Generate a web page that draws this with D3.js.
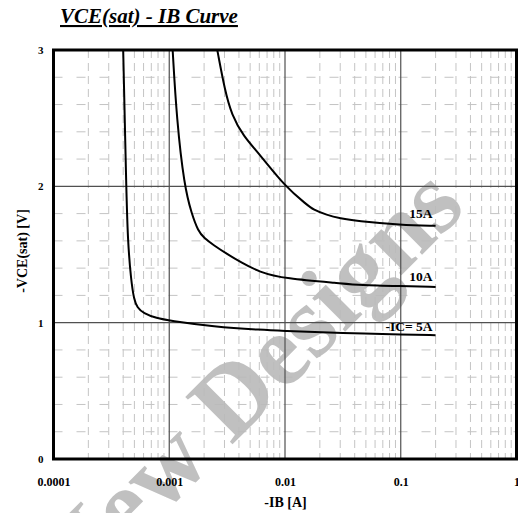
<!DOCTYPE html>
<html>
<head>
<meta charset="utf-8">
<script src="https://cdn.jsdelivr.net/npm/d3@7"></script>
<style>
  body { margin: 0; background: #fff; }
  text { font-family: "Liberation Serif", "Times New Roman", serif; font-weight: bold; }
</style>
</head>
<body>
<div id="chart"></div>
<script>
// data
var ib5  = [0.0004, 0.000425, 0.000438, 0.000468, 0.000496, 0.00053, 0.000596, 0.00078, 0.001, 0.0024, 0.0064, 0.01, 0.02, 0.05, 0.1, 0.2];
var v5   = [3.0, 2.0, 1.6, 1.31, 1.17, 1.11, 1.07, 1.032, 1.015, 0.97, 0.946, 0.94, 0.93, 0.92, 0.912, 0.908];
var ib10 = [0.00107, 0.00116, 0.00135, 0.00156, 0.00178, 0.002, 0.0024, 0.00325, 0.0041, 0.006, 0.01, 0.03, 0.044, 0.1, 0.2];
var v10  = [3.0, 2.49, 2.0, 1.80, 1.67, 1.621, 1.57, 1.497, 1.446, 1.37, 1.323, 1.289, 1.275, 1.268, 1.262];
var ib15 = [0.0026, 0.00303, 0.00346, 0.00436, 0.00607, 0.01, 0.0154, 0.0175, 0.0229, 0.03, 0.0415, 0.1, 0.2];
var v15  = [3.0, 2.70, 2.526, 2.368, 2.233, 2.0, 1.866, 1.83, 1.79, 1.765, 1.745, 1.717, 1.71];
var curveLabels = ["-IC= 5A", "10A", "15A"];

var xTicks = [0.0001, 0.001, 0.01, 0.1, 1];
var xTickLabels = ["0.0001", "0.001", "0.01", "0.1", "1"];
var yTicks = [0, 1, 2, 3];

var margin = {top: 50, right: 2, bottom: 54, left: 53.5};
var W = 518, H = 513;

var svg = d3.select("#chart").append("svg")
  .attr("width", W)
  .attr("height", H);

var x = d3.scaleLog().domain([0.0001, 1]).range([margin.left, 516.5]);
var y = d3.scaleLinear().domain([0, 3]).range([459, margin.top]);

// title
svg.append("text")
  .attr("x", 60)
  .attr("y", 23)
  .style("font-size", "21px")
  .style("font-style", "italic")
  .style("text-decoration", "underline")
  .text("VCE(sat) - IB Curve");

var grid = svg.append("g");

// minor vertical grid (2..9 per decade)
var minorX = [];
for (var d = -4; d < 0; d++) {
  for (var k = 2; k <= 9; k++) minorX.push(k * Math.pow(10, d));
}
grid.selectAll(".mx")
  .data(minorX)
  .enter().append("line")
    .attr("x1", function(d) { return x(d); })
    .attr("x2", function(d) { return x(d); })
    .attr("y1", y(3))
    .attr("y2", y(0))
    .attr("stroke", "#c4c4c4")
    .attr("stroke-width", 1)
    .attr("stroke-dasharray", "8,5");

// minor horizontal grid every 0.2
var minorY = d3.range(0.2, 3, 0.2).filter(function(v) { return Math.abs(v - Math.round(v)) > 0.01; });
grid.selectAll(".my")
  .data(minorY)
  .enter().append("line")
    .attr("x1", x(0.0001))
    .attr("x2", x(1))
    .attr("y1", function(d) { return y(d); })
    .attr("y2", function(d) { return y(d); })
    .attr("stroke", "#c4c4c4")
    .attr("stroke-width", 1)
    .attr("stroke-dasharray", "9,14");

// watermark
svg.append("text")
  .attr("transform", "translate(248,380) rotate(-45)")
  .attr("text-anchor", "middle")
  .attr("dominant-baseline", "central")
  .style("font-size", "102px")
  .attr("fill", "#bababa")
  .attr("opacity", 0.9)
  .text("New Designs");

// major grid
grid = svg.append("g");
grid.selectAll(".Mx")
  .data(xTicks.slice(1, 4))
  .enter().append("line")
    .attr("x1", function(d) { return x(d); })
    .attr("x2", function(d) { return x(d); })
    .attr("y1", y(3))
    .attr("y2", y(0))
    .attr("stroke", "#505050")
    .attr("stroke-width", 1.2);
grid.selectAll(".My")
  .data(yTicks.slice(1, 3))
  .enter().append("line")
    .attr("x1", x(0.0001))
    .attr("x2", x(1))
    .attr("y1", function(d) { return y(d); })
    .attr("y2", function(d) { return y(d); })
    .attr("stroke", "#505050")
    .attr("stroke-width", 1.2);

// curves
var series = [
  {ib: ib5, v: v5, label: curveLabels[0], dy: -4},
  {ib: ib10, v: v10, label: curveLabels[1], dy: -6},
  {ib: ib15, v: v15, label: curveLabels[2], dy: -8}
];

var line = d3.line()
  .curve(d3.curveBasis)
  .x(function(d) { return x(d[0]); })
  .y(function(d) { return y(d[1]); });

svg.selectAll(".curve")
  .data(series)
  .enter().append("path")
    .attr("class", "curve")
    .attr("d", function(s) { return line(s.ib.map(function(b, i) { return [b, s.v[i]]; })); })
    .attr("fill", "none")
    .attr("stroke", "#000")
    .attr("stroke-width", 2);

svg.selectAll(".clabel")
  .data(series)
  .enter().append("text")
    .attr("x", function(s) { return x(s.ib[s.ib.length - 1]) - 3; })
    .attr("y", function(s) { return y(s.v[s.v.length - 1]) + s.dy; })
    .attr("text-anchor", "end")
    .style("font-size", "13.5px")
    .text(function(s) { return s.label; });

// frame
svg.append("rect")
  .attr("x", x(0.0001))
  .attr("y", y(3))
  .attr("width", x(1) - x(0.0001))
  .attr("height", y(0) - y(3))
  .attr("fill", "none")
  .attr("stroke", "#000")
  .attr("stroke-width", 3);

// axes
var xAxis = svg.append("g")
  .attr("transform", "translate(0," + y(0) + ")")
  .call(d3.axisBottom(x).tickValues(xTicks).tickSize(0).tickPadding(18)
    .tickFormat(function(d, i) { return xTickLabels[i]; }));
xAxis.select(".domain").remove();
xAxis.selectAll("text")
  .attr("fill", "#000")
  .style("font-size", "12px")
  .style("font-family", "Liberation Serif, serif")
  .style("font-weight", "bold");

var yAxis = svg.append("g")
  .attr("transform", "translate(" + x(0.0001) + ",0)")
  .call(d3.axisLeft(y).tickValues(yTicks).tickSize(0).tickPadding(10)
    .tickFormat(d3.format("d")));
yAxis.select(".domain").remove();
yAxis.selectAll("text")
  .attr("fill", "#000")
  .style("font-size", "11px")
  .style("font-family", "Liberation Serif, serif")
  .style("font-weight", "bold");

// axis titles
svg.append("text")
  .attr("x", 285.5)
  .attr("y", 507)
  .attr("text-anchor", "middle")
  .style("font-size", "14px")
  .text("-IB [A]");

svg.append("text")
  .attr("transform", "translate(27,251) rotate(-90)")
  .attr("text-anchor", "middle")
  .style("font-size", "14px")
  .text("-VCE(sat) [V]");
</script>
</body>
</html>
